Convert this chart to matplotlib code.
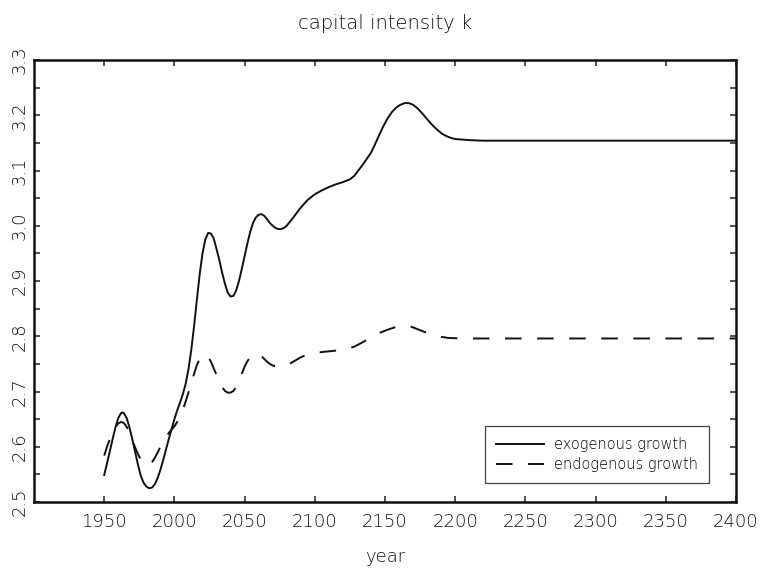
import matplotlib
matplotlib.use("Agg")
import matplotlib.pyplot as plt
from matplotlib.ticker import MultipleLocator

# exogenous growth (solid)
exo_years = [1950, 1952, 1954, 1956, 1958, 1960, 1962, 1963, 1964, 1966, 1968,
             1970, 1972, 1974, 1976, 1978, 1980, 1982, 1984, 1986, 1988, 1990,
             1992, 1994, 1996, 1998, 2000, 2002, 2004, 2006, 2008, 2010, 2012,
             2014, 2016, 2018, 2020, 2022, 2024, 2026, 2028, 2030, 2032, 2034,
             2036, 2038, 2040, 2042, 2044, 2046, 2048, 2050, 2052, 2054, 2056,
             2058, 2060, 2062, 2064, 2066, 2068, 2070, 2072, 2074, 2076, 2078,
             2080, 2085, 2090, 2095, 2100, 2105, 2110, 2115, 2120, 2125, 2128,
             2131, 2134, 2137, 2140, 2143, 2146, 2149, 2152, 2155, 2158, 2161,
             2164, 2167, 2170, 2173, 2176, 2179, 2182, 2185, 2188, 2191, 2194,
             2197, 2200, 2205, 2210, 2220, 2300, 2400]
exo_k = [2.549, 2.570, 2.592, 2.614, 2.635, 2.652, 2.661, 2.662, 2.661, 2.652, 2.635,
         2.614, 2.591, 2.568, 2.548, 2.535, 2.528, 2.525, 2.526, 2.532, 2.543, 2.558,
         2.576, 2.595, 2.614, 2.632, 2.650, 2.666, 2.680, 2.695, 2.714, 2.740, 2.775,
         2.818, 2.866, 2.912, 2.950, 2.975, 2.987, 2.986, 2.977, 2.958, 2.938, 2.915,
         2.895, 2.879, 2.872, 2.873, 2.883, 2.900, 2.922, 2.945, 2.968, 2.989, 3.005,
         3.015, 3.020, 3.021, 3.018, 3.012, 3.005, 3.000, 2.996, 2.994, 2.994, 2.996,
         3.000, 3.016, 3.033, 3.047, 3.057, 3.064, 3.070, 3.075, 3.079, 3.084, 3.090,
         3.100, 3.110, 3.121, 3.132, 3.148, 3.165, 3.181, 3.195, 3.206, 3.214, 3.219,
         3.222, 3.222, 3.219, 3.213, 3.205, 3.196, 3.187, 3.179, 3.172, 3.166, 3.162,
         3.159, 3.157, 3.156, 3.155, 3.154, 3.154, 3.154]

# endogenous growth (dashed)
endo_years = [1950, 1952, 1954, 1956, 1958, 1960, 1962, 1964, 1966, 1968, 1970,
              1972, 1974, 1976, 1978, 1980, 1982, 1984, 1986, 1988, 1990, 1992,
              1994, 1996, 1998, 2000, 2002, 2004, 2006, 2008, 2010, 2012, 2014,
              2016, 2018, 2020, 2022, 2024, 2026, 2028, 2030, 2032, 2034, 2036,
              2038, 2040, 2042, 2044, 2046, 2048, 2050, 2052, 2054, 2056, 2058,
              2060, 2062, 2064, 2066, 2068, 2070, 2074, 2078, 2082, 2086, 2090,
              2095, 2100, 2107, 2115, 2122, 2128, 2134, 2140, 2146, 2152, 2158,
              2164, 2168, 2172, 2176, 2180, 2185, 2190, 2195, 2205, 2300, 2400]
endo_k = [2.584, 2.600, 2.614, 2.626, 2.636, 2.642, 2.645, 2.643, 2.636, 2.625, 2.612,
          2.599, 2.587, 2.577, 2.570, 2.567, 2.568, 2.572, 2.580, 2.589, 2.600, 2.610,
          2.618, 2.625, 2.631, 2.637, 2.645, 2.655, 2.667, 2.682, 2.698, 2.715, 2.732,
          2.748, 2.759, 2.765, 2.767, 2.763, 2.754, 2.742, 2.730, 2.718, 2.708, 2.701,
          2.698, 2.698, 2.701, 2.708, 2.719, 2.732, 2.745, 2.755, 2.762, 2.766, 2.768,
          2.767, 2.764, 2.759, 2.754, 2.750, 2.747, 2.745, 2.746, 2.750, 2.756, 2.762,
          2.767, 2.770, 2.772, 2.774, 2.777, 2.781, 2.789, 2.798, 2.806, 2.812, 2.817,
          2.819, 2.818, 2.814, 2.810, 2.806, 2.802, 2.799, 2.797, 2.796, 2.796, 2.796]

x_ticks = [1950, 2000, 2050, 2100, 2150, 2200, 2250, 2300, 2350, 2400]
y_ticks = [2.5, 2.6, 2.7, 2.8, 2.9, 3.0, 3.1, 3.2, 3.3]

plt.rcParams['font.family'] = ['DejaVu Sans']
plt.rcParams['font.weight'] = 'light'
plt.rcParams['axes.titleweight'] = 'light'
plt.rcParams['axes.labelweight'] = 'light'

fig = plt.figure(figsize=(7.61, 5.71), dpi=100)
ax = fig.add_axes([0.0447, 0.1208, 0.9224, 0.7741])

ax.plot(exo_years, exo_k, color='#111111', lw=1.4, solid_joinstyle='round',
        label='exogenous growth')
ax.plot(endo_years, endo_k, color='#111111', lw=1.4, dashes=(8.5, 8),
        dash_joinstyle='round', label='endogenous growth')

ax.set_xlim(1900, 2400)
ax.set_ylim(2.5, 3.3)
ax.set_xticks(x_ticks)
ax.set_xticklabels([str(t) for t in x_ticks])
ax.set_yticks(y_ticks)
ax.set_yticklabels(['%.1f' % t for t in y_ticks], rotation=90, va='center')
ax.yaxis.set_minor_locator(MultipleLocator(0.05))

for s in ax.spines.values():
    s.set_linewidth(1.8)
    s.set_color('#111111')
ax.tick_params(which='both', direction='in', top=True, right=True,
               width=1.1, color='#222222', labelsize=13, labelcolor='#111111')
ax.tick_params(axis='x', which='major', length=4, pad=8)
ax.tick_params(axis='y', which='major', length=4, pad=4)
ax.tick_params(axis='y', which='minor', length=4)

ax.set_title('capital intensity k', fontsize=14, pad=22, color='#111111')
ax.set_xlabel('year', fontsize=13, labelpad=12, color='#111111')

leg = ax.legend(loc='lower left', bbox_to_anchor=(0.6425, 0.0423),
                borderaxespad=0, fancybox=False, fontsize=10.5,
                handlelength=3.3, handletextpad=0.7, labelspacing=0.35,
                borderpad=0.75, framealpha=1)
leg.get_frame().set_edgecolor('#444444')
leg.get_frame().set_linewidth(0.9)

fig.savefig('out.png', dpi=100)
